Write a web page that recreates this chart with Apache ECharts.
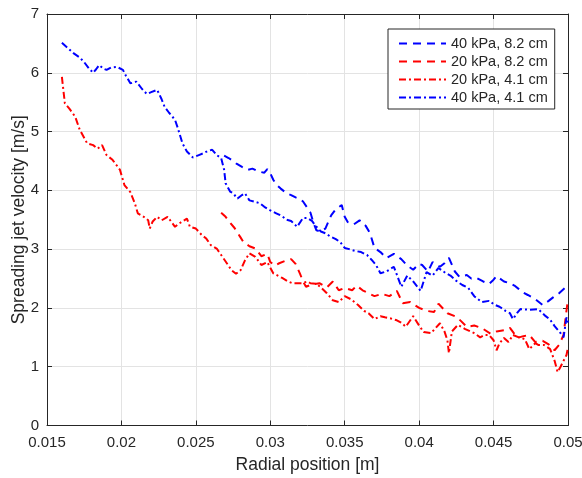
<!DOCTYPE html>
<html><head><meta charset="utf-8">
<script src="https://cdn.jsdelivr.net/npm/echarts@6/dist/echarts.min.js"></script>
<style>html,body{margin:0;padding:0;background:#fff}#c{width:582px;height:478px}</style>
</head><body><div id="c"></div>
<script>
var seriesNames = ['40 kPa, 8.2 cm', '20 kPa, 8.2 cm', '20 kPa, 4.1 cm', '40 kPa, 4.1 cm'];
var xTicks = [0.015, 0.02, 0.025, 0.03, 0.035, 0.04, 0.045, 0.05];
var yTicks = [0, 1, 2, 3, 4, 5, 6, 7];

var blue82 = [[0.0269,4.59],[0.0272,4.55],[0.0275,4.50],[0.0277,4.46],[0.0281,4.40],[0.0285,4.35],[0.0288,4.37],[0.0292,4.32],[0.0296,4.30],[0.0298,4.36],[0.0300,4.29],[0.0302,4.18],[0.0304,4.10],[0.0307,4.03],[0.0311,3.95],[0.0314,3.92],[0.0317,3.88],[0.0320,3.85],[0.0322,3.81],[0.0325,3.70],[0.0327,3.62],[0.0329,3.45],[0.0331,3.32],[0.0334,3.30],[0.0337,3.35],[0.0341,3.58],[0.0344,3.68],[0.0348,3.75],[0.0350,3.55],[0.0352,3.46],[0.0356,3.42],[0.0360,3.49],[0.0364,3.40],[0.0367,3.27],[0.0370,3.02],[0.0374,2.95],[0.0378,2.85],[0.0383,2.92],[0.0388,2.83],[0.0392,2.72],[0.0396,2.65],[0.0400,2.75],[0.0402,2.73],[0.0406,2.62],[0.0409,2.78],[0.0414,2.70],[0.0417,2.76],[0.0420,2.85],[0.0424,2.62],[0.0427,2.53],[0.0432,2.56],[0.0435,2.50],[0.0438,2.52],[0.0443,2.45],[0.0447,2.41],[0.0450,2.48],[0.0452,2.54],[0.0457,2.45],[0.0461,2.42],[0.0464,2.38],[0.0467,2.32],[0.0470,2.26],[0.0473,2.22],[0.0478,2.15],[0.0483,2.05],[0.0487,2.12],[0.0490,2.18],[0.0494,2.25],[0.0498,2.34],[0.0500,2.36]];

var red82 = [[0.0267,3.62],[0.0270,3.55],[0.0273,3.45],[0.0276,3.36],[0.0280,3.20],[0.0282,3.12],[0.0286,3.05],[0.0290,3.01],[0.0294,2.88],[0.0298,2.92],[0.0300,2.78],[0.0303,2.72],[0.0306,2.76],[0.0310,2.80],[0.0314,2.83],[0.0317,2.75],[0.0320,2.58],[0.0322,2.45],[0.0324,2.36],[0.0328,2.40],[0.0333,2.42],[0.0338,2.35],[0.0342,2.45],[0.0346,2.30],[0.0350,2.34],[0.0355,2.30],[0.0358,2.38],[0.0362,2.30],[0.0366,2.25],[0.0370,2.20],[0.0375,2.24],[0.0380,2.20],[0.0385,2.29],[0.0389,2.08],[0.0394,2.10],[0.0400,2.00],[0.0405,1.95],[0.0410,1.93],[0.0413,2.07],[0.0419,1.91],[0.0425,1.85],[0.0428,1.78],[0.0432,1.68],[0.0437,1.70],[0.0442,1.66],[0.0448,1.56],[0.0452,1.60],[0.0457,1.62],[0.0461,1.66],[0.0466,1.49],[0.0470,1.52],[0.0474,1.54],[0.0478,1.42],[0.0483,1.44],[0.0487,1.38],[0.0491,1.28],[0.0494,1.37],[0.0497,1.54],[0.0499,1.96],[0.0500,2.15]];

var red41 = [[0.0160,5.93],[0.0162,5.48],[0.0165,5.39],[0.0169,5.25],[0.0172,5.03],[0.0177,4.80],[0.0181,4.77],[0.0184,4.71],[0.0187,4.77],[0.0190,4.60],[0.0194,4.52],[0.0199,4.35],[0.0202,4.09],[0.0206,3.97],[0.0209,3.78],[0.0211,3.61],[0.0215,3.55],[0.0218,3.49],[0.0219,3.35],[0.0221,3.47],[0.0224,3.55],[0.0227,3.49],[0.0231,3.55],[0.0236,3.38],[0.0239,3.44],[0.0244,3.52],[0.0246,3.38],[0.0250,3.35],[0.0254,3.24],[0.0257,3.18],[0.0260,3.07],[0.0264,3.01],[0.0267,2.90],[0.0270,2.79],[0.0274,2.64],[0.0277,2.58],[0.0280,2.64],[0.0283,2.81],[0.0286,2.93],[0.0290,2.87],[0.0294,2.73],[0.0298,2.78],[0.0302,2.59],[0.0305,2.55],[0.0308,2.51],[0.0312,2.45],[0.0315,2.42],[0.0321,2.42],[0.0325,2.45],[0.0327,2.42],[0.0331,2.41],[0.0334,2.35],[0.0338,2.25],[0.0342,2.13],[0.0346,2.10],[0.0350,2.20],[0.0354,2.15],[0.0359,2.05],[0.0363,1.95],[0.0366,1.91],[0.0370,1.81],[0.0374,1.86],[0.0377,1.84],[0.0381,1.82],[0.0385,1.79],[0.0388,1.75],[0.0391,1.68],[0.0396,1.86],[0.0400,1.70],[0.0403,1.59],[0.0408,1.57],[0.0414,1.74],[0.0417,1.60],[0.0419,1.45],[0.0420,1.23],[0.0422,1.60],[0.0426,1.71],[0.0431,1.64],[0.0437,1.57],[0.0441,1.50],[0.0444,1.54],[0.0447,1.54],[0.0450,1.45],[0.0452,1.28],[0.0454,1.40],[0.0457,1.49],[0.0460,1.42],[0.0463,1.54],[0.0467,1.50],[0.0471,1.47],[0.0474,1.30],[0.0478,1.40],[0.0480,1.37],[0.0484,1.37],[0.0488,1.30],[0.0491,1.10],[0.0493,0.91],[0.0495,1.00],[0.0497,1.10],[0.0499,1.20],[0.0500,1.33]];

var blue41 = [[0.0160,6.51],[0.0164,6.42],[0.0168,6.33],[0.0172,6.26],[0.0175,6.18],[0.0178,6.08],[0.0181,6.00],[0.0183,6.06],[0.0185,6.13],[0.0188,6.07],[0.0190,6.05],[0.0193,6.09],[0.0197,6.10],[0.0201,6.05],[0.0203,5.95],[0.0206,5.82],[0.0210,5.85],[0.0214,5.72],[0.0217,5.64],[0.0220,5.67],[0.0224,5.71],[0.0227,5.55],[0.0229,5.42],[0.0232,5.32],[0.0236,5.20],[0.0238,5.05],[0.0241,4.80],[0.0244,4.66],[0.0248,4.56],[0.0252,4.60],[0.0255,4.63],[0.0258,4.67],[0.0261,4.69],[0.0264,4.60],[0.0267,4.55],[0.0269,4.35],[0.0270,4.12],[0.0273,3.98],[0.0275,3.95],[0.0278,3.86],[0.0281,3.92],[0.0283,3.95],[0.0286,3.83],[0.0289,3.81],[0.0293,3.78],[0.0296,3.72],[0.0300,3.66],[0.0304,3.61],[0.0308,3.56],[0.0311,3.50],[0.0314,3.48],[0.0318,3.38],[0.0322,3.53],[0.0325,3.53],[0.0328,3.48],[0.0331,3.38],[0.0334,3.30],[0.0337,3.27],[0.0340,3.22],[0.0344,3.17],[0.0347,3.12],[0.0350,3.02],[0.0353,3.00],[0.0357,2.97],[0.0361,2.95],[0.0365,2.90],[0.0368,2.82],[0.0371,2.73],[0.0374,2.59],[0.0378,2.62],[0.0383,2.70],[0.0386,2.50],[0.0388,2.36],[0.0392,2.55],[0.0396,2.45],[0.0401,2.29],[0.0405,2.61],[0.0409,2.55],[0.0413,2.68],[0.0418,2.59],[0.0421,2.55],[0.0425,2.46],[0.0429,2.39],[0.0433,2.34],[0.0437,2.20],[0.0442,2.10],[0.0447,2.12],[0.0451,2.05],[0.0454,2.02],[0.0458,1.95],[0.0461,1.91],[0.0463,1.81],[0.0466,1.92],[0.0468,1.98],[0.0474,1.97],[0.0480,1.98],[0.0485,1.86],[0.0488,1.80],[0.0491,1.69],[0.0495,1.57],[0.0497,1.50],[0.0499,1.84],[0.0500,1.75]];

var FONT = 'Liberation Sans';
var AX = '#262626';
var GRIDC = '#e3e3e3';
var DASH = [8, 6];
var DASHDOT = [7, 3, 2, 3];

function mkAxis(pos, isX, showLabel, showName) {
  var a = {
    type: 'value',
    position: pos,
    min: isX ? xTicks[0] : yTicks[0],
    max: isX ? xTicks[xTicks.length - 1] : yTicks[yTicks.length - 1],
    interval: isX ? 0.005 : 1,
    axisLine: { show: true, onZero: false, lineStyle: { color: AX, width: 1 } },
    axisTick: { show: true, inside: true, length: 5, lineStyle: { color: AX } },
    splitLine: { show: showLabel, lineStyle: { color: GRIDC, width: 1 } },
    axisLabel: {
      show: showLabel, color: AX, fontFamily: FONT, fontSize: 15,
      margin: isX ? 10 : 8,
      hideOverlap: false,
      formatter: function (v) { return String(+(+v).toFixed(3)); }
    }
  };
  if (showName) {
    a.name = isX ? 'Radial position [m]' : 'Spreading jet velocity [m/s]';
    a.nameLocation = 'middle';
    a.nameGap = isX ? 31 : 19;
    a.nameMoveOverlap = false;
    a.nameTextStyle = { color: AX, fontFamily: FONT, fontSize: 17.5 };
  }
  return a;
}

function mkSeries(name, data, color, dash) {
  return {
    name: name, type: 'line', data: data, symbol: 'none', showSymbol: false,
    xAxisIndex: 0, yAxisIndex: 0,
    lineStyle: { color: color, width: 2, type: dash },
    itemStyle: { color: color },
    emphasis: { disabled: true },
    silent: true
  };
}

var chart = echarts.init(document.getElementById('c'), null, { renderer: 'canvas' });
chart.setOption({
  animation: false,
  backgroundColor: '#ffffff',
  grid: { left: 47, right: 14, top: 14, bottom: 52.5, containLabel: false, outerBoundsMode: 'none' },
  xAxis: [mkAxis('bottom', true, true, true), mkAxis('top', true, false, false)],
  yAxis: [mkAxis('left', false, true, true), mkAxis('right', false, false, false)],
  legend: {
    orient: 'vertical',
    left: 388, top: 29,
    backgroundColor: '#ffffff',
    borderColor: AX, borderWidth: 1, borderRadius: 0,
    padding: [7, 7, 4, 10],
    itemWidth: 47, itemHeight: 17, itemGap: 3,
    itemStyle: { color: 'rgba(0,0,0,0)', borderWidth: 0, opacity: 0 },
    textStyle: { color: AX, fontFamily: FONT, fontSize: 14.5 },
    data: seriesNames
  },
  series: [
    mkSeries(seriesNames[0], blue82, '#0000ff', DASH),
    mkSeries(seriesNames[1], red82, '#ff0000', DASH),
    mkSeries(seriesNames[2], red41, '#ff0000', DASHDOT),
    mkSeries(seriesNames[3], blue41, '#0000ff', DASHDOT)
  ]
});
</script></body></html>
